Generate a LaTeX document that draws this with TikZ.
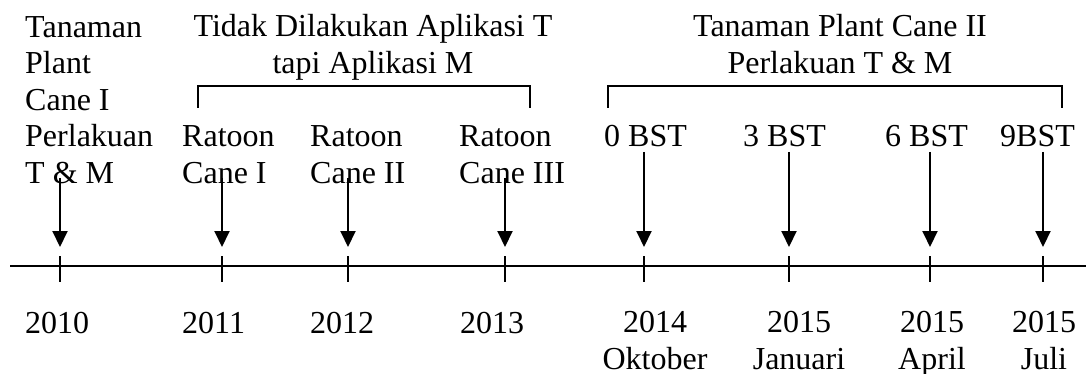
\documentclass[tikz,border=0pt]{standalone}
\usepackage{fontspec}
\setmainfont{Liberation Serif}
\usetikzlibrary{arrows.meta}
\begin{document}
\begin{tikzpicture}[x=1pt,y=-1pt,
  txt/.style={font=\fontsize{32}{36.6}\selectfont, inner sep=0pt, align=left, anchor=base west},
  ctxt/.style={font=\fontsize{32}{36.6}\selectfont, inner sep=0pt, align=center, anchor=base},
  arr/.style={-{Triangle[width=15pt,length=16pt]}, line width=2pt},
  tickline/.style={line width=1.5pt},
  axisline/.style={line width=2pt},
  brk/.style={line width=1.6pt}]
\useasboundingbox (0,0) rectangle (1086,374);

% headings (anchor = baseline of last line)
\node[txt] (c1) at (25,183.5) {Tanaman\\Plant\\Cane I\\Perlakuan\\T \& M};
\node[ctxt] (h1) at (373,73.5) {Tidak Dilakukan Aplikasi T\\tapi Aplikasi M};
\node[ctxt] (h2) at (840,73.5) {Tanaman Plant Cane II\\Perlakuan T \& M};

% column labels
\node[txt] (r1) at (182,183.5) {Ratoon\\Cane I};
\node[txt] (r2) at (310,183.5) {Ratoon\\Cane II};
\node[txt] (r3) at (459,183.5) {Ratoon\\Cane III};
\node[txt] (b0) at (604,147) {0 BST};
\node[txt] (b3) at (743,147) {3 BST};
\node[txt] (b6) at (885,147) {6 BST};
\node[txt] (b9) at (1000,147) {9BST};

% brackets
\coordinate (bA1) at (198,108);
\coordinate (bA2) at (198,86);
\coordinate (bA3) at (530,86);
\coordinate (bA4) at (530,108);
\draw[brk] (bA1) -- (bA2) -- (bA3) -- (bA4);
\coordinate (bB1) at (608,108);
\coordinate (bB2) at (608,86);
\coordinate (bB3) at (1062,86);
\coordinate (bB4) at (1062,108);
\draw[brk] (bB1) -- (bB2) -- (bB3) -- (bB4);

% axis
\coordinate (axL) at (10,266);
\coordinate (axR) at (1086,266);
\draw[axisline] (axL) -- (axR);

% ticks and arrows
\foreach \n/\x/\s in {1/60/178, 2/222/178, 3/348/178, 4/505/178, 5/644/152, 6/789/152, 7/930/152, 8/1043/152} {
  \coordinate (tt\n) at (\x,256);
  \coordinate (tb\n) at (\x,282);
  \coordinate (as\n) at (\x,\s);
  \coordinate (ae\n) at (\x,247);
  \draw[tickline] (tt\n) -- (tb\n);
  \draw[arr] (as\n) -- (ae\n);
}

% year labels
\node[txt] (y1) at (25,333) {2010};
\node[txt] (y2) at (182,333) {2011};
\node[txt] (y3) at (310,333) {2012};
\node[txt] (y4) at (460,333) {2013};
\node[ctxt] (y5) at (655,369) {2014\\Oktober};
\node[ctxt] (y6) at (799,369) {2015\\Januari};
\node[ctxt] (y7) at (932,369) {2015\\April};
\node[ctxt] (y8) at (1044,369) {2015\\Juli};
\end{tikzpicture}
\end{document}
